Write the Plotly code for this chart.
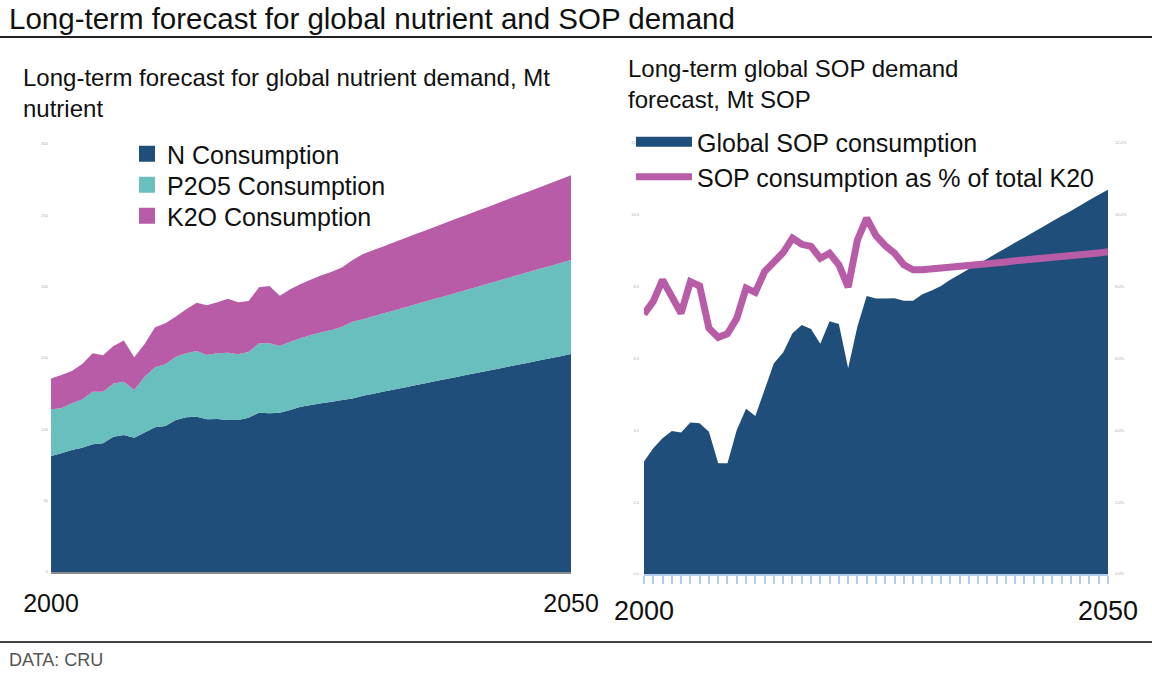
import plotly.graph_objects as go

FONT = "Liberation Sans, Arial, sans-serif"

# ---- left panel data: global nutrient demand, Mt nutrient ----
years = list(range(2000, 2051))
n_consumption = [
    81.3, 83.2, 85.5, 87.1, 89.5, 90.2, 94.8, 96.0, 94.1, 97.7,
    101.4, 102.3, 106.5, 108.4, 108.9, 107.0, 107.2, 106.5, 106.5, 108.2,
    111.7, 111.2, 111.7, 113.5, 115.9, 117.1, 118.2, 119.4, 120.6, 121.7,
    123.6, 125.0, 126.5, 128.0, 129.4, 130.9, 132.3, 133.8, 135.2, 136.7,
    138.2, 139.6, 141.1, 142.5, 144.0, 145.5, 146.9, 148.4, 149.8, 151.3, 152.8,
]
p2o5_consumption = [
    32.7, 31.5, 32.7, 33.9, 36.9, 36.2, 37.4, 37.4, 33.5, 39.2,
    42.1, 43.3, 44.4, 44.9, 46.0, 45.1, 46.1, 47.2, 46.1, 46.0,
    48.6, 49.1, 46.7, 47.9, 47.9, 49.0, 49.8, 50.2, 51.3, 53.7,
    53.5, 54.2, 54.8, 55.3, 56.0, 56.6, 57.3, 57.9, 58.5, 59.1,
    59.7, 60.4, 61.0, 61.6, 62.2, 62.8, 63.5, 64.1, 64.7, 65.3, 65.9,
]
k2o_consumption = [
    21.7, 23.4, 22.7, 24.8, 26.9, 25.5, 26.2, 28.8, 22.9, 22.9,
    28.0, 28.7, 28.1, 30.8, 33.9, 34.8, 35.7, 37.9, 36.4, 35.8,
    39.2, 40.2, 35.3, 36.7, 38.1, 39.0, 40.0, 40.9, 41.7, 43.3,
    45.8, 46.5, 47.1, 47.9, 48.5, 49.2, 49.8, 50.5, 51.2, 51.9,
    52.5, 53.2, 53.8, 54.6, 55.2, 55.9, 56.5, 57.2, 57.9, 58.6, 59.3,
]

# ---- right panel data: SOP demand, Mt SOP and share of K2O (%) ----
sop_consumption = [
    3.13, 3.50, 3.78, 3.98, 3.94, 4.22, 4.20, 3.96, 3.08, 3.08,
    4.01, 4.60, 4.40, 5.13, 5.87, 6.17, 6.70, 6.93, 6.82, 6.41,
    7.04, 6.96, 5.73, 6.89, 7.74, 7.67, 7.67, 7.68, 7.61, 7.61,
    7.79, 7.89, 8.02, 8.19, 8.34, 8.49, 8.63, 8.78, 8.93, 9.08,
    9.23, 9.37, 9.52, 9.67, 9.82, 9.97, 10.11, 10.26, 10.41, 10.56, 10.70,
]
sop_share_k2o = [
    7.23, 7.59, 8.19, 7.73, 7.26, 8.14, 8.02, 6.84, 6.59, 6.69,
    7.12, 7.96, 7.84, 8.42, 8.70, 8.95, 9.35, 9.18, 9.12, 8.79,
    8.93, 8.61, 7.99, 9.30, 9.91, 9.42, 9.14, 8.93, 8.61, 8.47,
    8.47, 8.49, 8.51, 8.54, 8.57, 8.59, 8.62, 8.64, 8.67, 8.69,
    8.72, 8.74, 8.77, 8.79, 8.82, 8.84, 8.87, 8.89, 8.92, 8.94, 8.97,
]

left_ticks = [0, 50, 100, 150, 200, 250, 300]
right_ticks = [0, 2, 4, 6, 8, 10, 12]

NAVY = "#1f4e7b"
TEAL = "#69bfbd"
MAGENTA = "#b95ca7"
TICK_BLUE = "#b3cdf0"

fig = go.Figure()

# stacked areas (left), each legend entry gets its own one-item legend
left_series = [("N Consumption", n_consumption, NAVY, "legend", 154),
               ("P2O5 Consumption", p2o5_consumption, TEAL, "legend3", 185),
               ("K2O Consumption", k2o_consumption, MAGENTA, "legend4", 216)]
for name, vals, col, leg, _ in left_series:
    fig.add_trace(go.Scatter(
        x=years, y=vals, name=name, stackgroup="nutrients", mode="none",
        fillcolor=col, showlegend=False, xaxis="x", yaxis="y"))
    fig.add_trace(go.Scatter(
        x=[None], y=[None], name=name, mode="markers",
        marker=dict(symbol="square", size=16, color=col),
        legend=leg, xaxis="x", yaxis="y"))

# SOP area + share line (right)
fig.add_trace(go.Scatter(
    x=years, y=sop_consumption, name="Global SOP consumption", mode="none",
    fill="tozeroy", fillcolor=NAVY, showlegend=False, xaxis="x2", yaxis="y2"))
fig.add_trace(go.Scatter(
    x=[None], y=[None], name="Global SOP consumption", mode="lines",
    line=dict(color=NAVY, width=13), legend="legend2", xaxis="x2", yaxis="y2"))
fig.add_trace(go.Scatter(
    x=years, y=sop_share_k2o, name="SOP consumption as % of total K20", mode="lines",
    line=dict(color=MAGENTA, width=7), legend="legend5", xaxis="x2", yaxis="y3"))

tiny = dict(size=4, color="#aaaaaa", family=FONT)
legend_font = dict(size=25, family=FONT, color="#111111")


def one_legend(x_px, y_px, width):
    return dict(x=x_px / 1152, y=1 - y_px / 674, xanchor="left", yanchor="middle",
                bgcolor="rgba(0,0,0,0)", font=legend_font, itemwidth=width)


legends = {}
for _, _, _, leg, ypos in left_series:
    legends[leg] = one_legend(127, ypos, 30)
legends["legend2"] = one_legend(631, 142, 56)
legends["legend5"] = one_legend(631, 177, 56)

fig.update_layout(
    width=1152, height=674,
    margin=dict(l=0, r=0, t=0, b=0, autoexpand=False),
    paper_bgcolor="white", plot_bgcolor="white",
    font=dict(family=FONT, color="#111111"),
    xaxis=dict(domain=[0.0443, 0.4957], range=[2000, 2050],
               showgrid=False, zeroline=False,
               showline=True, linecolor="#8c8c8c", linewidth=2,
               tickmode="array", tickvals=[2000, 2050], ticktext=["2000", "2050"],
               ticks="", ticklabelstandoff=8,
               tickfont=dict(size=25, color="#111111", family=FONT),
               anchor="y"),
    yaxis=dict(domain=[0.1513, 0.7864], range=[0, 300],
               showgrid=False, zeroline=False, showline=False,
               tickvals=left_ticks, tickfont=tiny, ticklabelstandoff=2,
               anchor="x"),
    xaxis2=dict(domain=[0.559, 0.9618], range=[2000, 2050],
                showgrid=False, zeroline=False,
                showline=True, linecolor=TICK_BLUE, linewidth=2,
                tickmode="array", tickvals=years,
                ticktext=["2000"] + [""] * 49 + ["2050"],
                ticks="outside", ticklen=8, tickwidth=2, tickcolor=TICK_BLUE,
                ticklabelstandoff=4,
                tickfont=dict(size=27, color="#111111", family=FONT),
                anchor="y2"),
    yaxis2=dict(domain=[0.1484, 0.7878], range=[0, 12],
                showgrid=False, zeroline=False, showline=False,
                tickvals=right_ticks, ticktext=[f"{v:.1f}" for v in right_ticks],
                tickfont=tiny, ticklabelstandoff=4, anchor="x2"),
    yaxis3=dict(domain=[0.1484, 0.7878], range=[0, 12], overlaying="y2", side="right",
                showgrid=False, zeroline=False, showline=False,
                tickvals=right_ticks, ticktext=[f"{v:.1f}%" for v in right_ticks],
                tickfont=tiny, ticklabelstandoff=6, anchor="x2"),
    showlegend=True,
    **legends,
)

# header, sub-titles and source note
fig.add_annotation(text="Long-term forecast for global nutrient and SOP demand",
                   xref="paper", yref="paper", x=0.006, y=1 - 18 / 674,
                   xanchor="left", yanchor="middle", showarrow=False,
                   font=dict(size=29.5, family=FONT, color="#111111"))
fig.add_annotation(text="Long-term forecast for global nutrient demand, Mt<br>nutrient",
                   xref="paper", yref="paper", x=0.018, y=1 - 62 / 674,
                   xanchor="left", yanchor="top", align="left", showarrow=False,
                   font=dict(size=24, family=FONT, color="#111111"))
fig.add_annotation(text="Long-term global SOP demand<br>forecast, Mt SOP",
                   xref="paper", yref="paper", x=0.543, y=1 - 53 / 674,
                   xanchor="left", yanchor="top", align="left", showarrow=False,
                   font=dict(size=24, family=FONT, color="#111111"))
fig.add_annotation(text="DATA: CRU",
                   xref="paper", yref="paper", x=0.006, y=1 - 660 / 674,
                   xanchor="left", yanchor="middle", showarrow=False,
                   font=dict(size=18, family=FONT, color="#555555"))

fig.add_shape(type="line", xref="paper", yref="paper", x0=0, x1=1,
              y0=1 - 37 / 674, y1=1 - 37 / 674, line=dict(color="#222222", width=2))
fig.add_shape(type="line", xref="paper", yref="paper", x0=0, x1=1,
              y0=1 - 642 / 674, y1=1 - 642 / 674, line=dict(color="#444444", width=2))

# page body has a default 8px margin; drop it so the figure fills the window
fig.write_html("out.html", config={"displayModeBar": False},
               post_script="document.body.style.margin='0';")
